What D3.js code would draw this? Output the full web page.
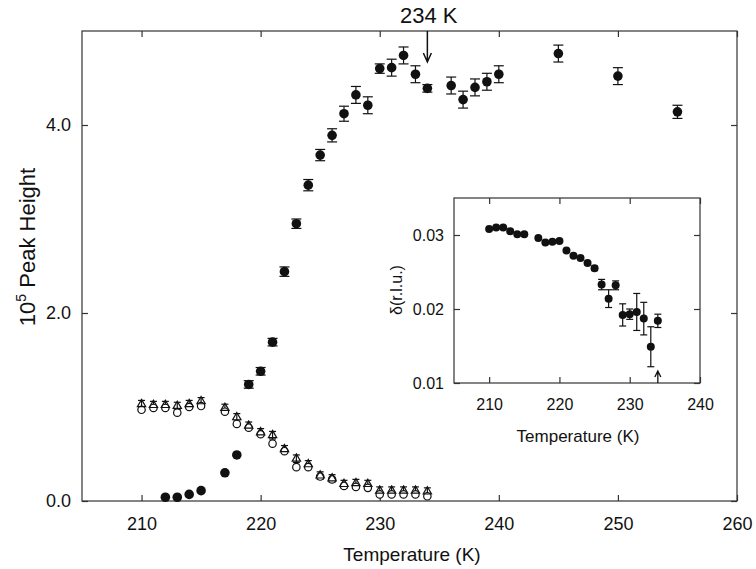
<!DOCTYPE html>
<html>
<head>
<meta charset="utf-8">
<script src="https://cdn.jsdelivr.net/npm/d3@7"></script>
<style>
  body { margin: 0; background: #fff; }
  svg { font-family: "Liberation Sans", Arial, sans-serif; }
  .frame { fill: none; stroke: #333; stroke-width: 1.2; }
  .tick line { stroke: #333; stroke-width: 1.2; }
</style>
</head>
<body>
<div id="chart"></div>
<script>
// main panel: filled circles (peak height with error bars)
const tFilled = [212, 213, 214, 215, 217, 218, 219, 220, 221, 222, 223, 224, 225, 226, 227,
                 228, 229, 230, 231, 232, 233, 234, 236, 237, 238, 239, 240, 245, 250, 255];
const hFilled = [0.04, 0.04, 0.07, 0.11, 0.30, 0.49, 1.24, 1.38, 1.69, 2.44, 2.95, 3.36, 3.68, 3.89, 4.12,
                 4.32, 4.21, 4.60, 4.61, 4.74, 4.54, 4.39, 4.42, 4.27, 4.40, 4.46, 4.54, 4.76, 4.52, 4.14];
const eFilled = [0, 0, 0, 0, 0, 0, 0.04, 0.04, 0.04, 0.05, 0.05, 0.06, 0.06, 0.07, 0.08,
                 0.09, 0.09, 0.05, 0.09, 0.09, 0.09, 0.04, 0.09, 0.09, 0.09, 0.09, 0.09, 0.09, 0.09, 0.07];

// main panel: open circles and open triangles
const tOpen = [210, 211, 212, 213, 214, 215, 217, 218, 219, 220, 221, 222,
               223, 224, 225, 226, 227, 228, 229, 230, 231, 232, 233, 234];
const hCircle = [0.97, 0.99, 0.99, 0.94, 1.00, 1.01, 0.95, 0.82, 0.78, 0.71, 0.61, 0.53,
                 0.36, 0.36, 0.26, 0.23, 0.16, 0.15, 0.14, 0.07, 0.07, 0.07, 0.07, 0.05];
const hTriangle = [1.03, 1.02, 1.02, 1.01, 1.03, 1.06, 0.99, 0.89, 0.80, 0.73, 0.70, 0.55,
                   0.45, 0.39, 0.27, 0.24, 0.18, 0.19, 0.18, 0.11, 0.11, 0.11, 0.11, 0.10];
const eTriangle = 0.04;

// inset: delta vs temperature
const tInset = [210, 211, 212, 213, 214, 215, 217, 218, 219, 220, 221, 222,
                223, 224, 225, 226, 227, 228, 229, 230, 231, 232, 233, 234];
const dInset = [0.0308, 0.0310, 0.0310, 0.0305, 0.0301, 0.0301, 0.0296, 0.0290, 0.0291, 0.0292, 0.0279, 0.0272,
                0.0269, 0.0262, 0.0255, 0.0233, 0.0214, 0.0232, 0.0192, 0.0193, 0.0196, 0.0187, 0.0149, 0.0184];
const eInset = [0, 0, 0, 0, 0, 0, 0, 0, 0, 0, 0, 0,
                0, 0.0002, 0.0003, 0.0007, 0.0012, 0.0006, 0.0015, 0.0007, 0.0025, 0.0022, 0.0027, 0.0009];

const xTicks = [210, 220, 230, 240, 250, 260];
const yTicks = [0, 2, 4];
const xTicksInset = [210, 220, 230, 240];
const yTicksInset = [0.01, 0.02, 0.03];
const transitionT = 234;

const width = 756;
const height = 569;

const svg = d3.select("#chart")
    .append("svg")
    .attr("width", width)
    .attr("height", height);

// ---- main panel ----
const xScale = d3.scaleLinear().domain([205, 260]).range([82, 737]);
const yScale = d3.scaleLinear().domain([0, 5]).range([501, 31]);

// axes with inward ticks on all four sides, plus a frame
function drawAxes(g, x, y, xt, yt, fmt, fontSize, padX, padY) {
    const [x0, x1] = x.range();
    const [y0, y1] = y.range();

    g.append("g")
        .attr("transform", `translate(0,${y0})`)
        .call(d3.axisBottom(x).tickValues(xt).tickSize(-6).tickPadding(padX).tickFormat(d3.format("d")))
        .call(a => a.select(".domain").remove());
    g.append("g")
        .attr("transform", `translate(0,${y1})`)
        .call(d3.axisTop(x).tickValues(xt).tickSize(-6).tickFormat(""))
        .call(a => a.select(".domain").remove());
    g.append("g")
        .attr("transform", `translate(${x0},0)`)
        .call(d3.axisLeft(y).tickValues(yt).tickSize(-6).tickPadding(padY).tickFormat(fmt))
        .call(a => a.select(".domain").remove());
    g.append("g")
        .attr("transform", `translate(${x1},0)`)
        .call(d3.axisRight(y).tickValues(yt).tickSize(-6).tickFormat(""))
        .call(a => a.select(".domain").remove());

    g.selectAll(".tick text")
        .attr("fill", "#111")
        .style("font-size", fontSize + "px")
        .style("font-family", "'Liberation Sans', Arial, sans-serif");

    g.append("rect")
        .attr("class", "frame")
        .attr("x", x0)
        .attr("y", y1)
        .attr("width", x1 - x0)
        .attr("height", y0 - y1);
}

function errorBars(g, data, x, y, cap) {
    const bars = g.append("g").attr("stroke", "#111").attr("stroke-width", 1.2);
    data.filter(d => d.e > 0).forEach(d => {
        const cx = x(d.t);
        const yHi = y(d.v + d.e);
        const yLo = y(d.v - d.e);
        bars.append("line").attr("x1", cx).attr("x2", cx).attr("y1", yHi).attr("y2", yLo);
        bars.append("line").attr("x1", cx - cap).attr("x2", cx + cap).attr("y1", yHi).attr("y2", yHi);
        bars.append("line").attr("x1", cx - cap).attr("x2", cx + cap).attr("y1", yLo).attr("y2", yLo);
    });
}

const main = svg.append("g");
drawAxes(main, xScale, yScale, xTicks, yTicks, d3.format(".1f"), 18, 16, 11);

const filled = tFilled.map((t, i) => ({ t: t, v: hFilled[i], e: eFilled[i] }));
const circles = tOpen.map((t, i) => ({ t: t, v: hCircle[i] }));
const triangles = tOpen.map((t, i) => ({ t: t, v: hTriangle[i], e: eTriangle }));

errorBars(main, triangles, xScale, yScale, 3.5);
errorBars(main, filled, xScale, yScale, 5);

main.append("g")
    .selectAll("circle")
    .data(circles)
    .join("circle")
    .attr("cx", d => xScale(d.t))
    .attr("cy", d => yScale(d.v))
    .attr("r", 3.7)
    .attr("fill", "#fff")
    .attr("stroke", "#111")
    .attr("stroke-width", 1.2);

main.append("g")
    .selectAll("path")
    .data(triangles)
    .join("path")
    .attr("transform", d => `translate(${xScale(d.t)},${yScale(d.v)})`)
    .attr("d", d3.symbol(d3.symbolTriangle, 30))
    .attr("fill", "none")
    .attr("stroke", "#111")
    .attr("stroke-width", 1.2);

main.append("g")
    .selectAll("circle")
    .data(filled)
    .join("circle")
    .attr("cx", d => xScale(d.t))
    .attr("cy", d => yScale(d.v))
    .attr("r", 4.8)
    .attr("fill", "#111");

// axis titles
main.append("text")
    .attr("x", 412)
    .attr("y", 561)
    .attr("text-anchor", "middle")
    .style("font-size", "19px")
    .attr("fill", "#111")
    .text("Temperature (K)");

const yLabel = main.append("text")
    .attr("transform", "translate(35,247) rotate(-90)")
    .attr("text-anchor", "middle")
    .style("font-size", "22px")
    .attr("fill", "#111");
yLabel.append("tspan").text("10");
yLabel.append("tspan").attr("dy", -9).style("font-size", "14px").text("5");
yLabel.append("tspan").attr("dy", 9).text(" Peak Height");

// transition marker
const tx = xScale(transitionT);
main.append("text")
    .attr("x", 400)
    .attr("y", 23)
    .style("font-size", "22px")
    .attr("fill", "#111")
    .text("234 K");
main.append("path")
    .attr("d", `M${tx},${yScale.range()[1]} V62 M${tx - 4},53 L${tx},62 L${tx + 4},53`)
    .attr("fill", "none")
    .attr("stroke", "#111")
    .attr("stroke-width", 1.5);

// ---- inset ----
const xInset = d3.scaleLinear().domain([205, 240]).range([454, 700]);
const yInset = d3.scaleLinear().domain([0.01, 0.035]).range([383, 198]);

const inset = svg.append("g");
inset.append("rect")
    .attr("x", 454).attr("y", 198)
    .attr("width", 246).attr("height", 185)
    .attr("fill", "#fff");
drawAxes(inset, xInset, yInset, xTicksInset, yTicksInset, d3.format(".2f"), 16, 16, 10);

const insetData = tInset.map((t, i) => ({ t: t, v: dInset[i], e: eInset[i] }));
errorBars(inset, insetData, xInset, yInset, 3.5);

inset.append("g")
    .selectAll("circle")
    .data(insetData)
    .join("circle")
    .attr("cx", d => xInset(d.t))
    .attr("cy", d => yInset(d.v))
    .attr("r", 4)
    .attr("fill", "#111");

const ix = xInset(transitionT);
inset.append("path")
    .attr("d", `M${ix},383 V371 M${ix - 3},377 L${ix},371 L${ix + 3},377`)
    .attr("fill", "none")
    .attr("stroke", "#111")
    .attr("stroke-width", 1.3);

inset.append("text")
    .attr("x", 578)
    .attr("y", 442)
    .attr("text-anchor", "middle")
    .style("font-size", "17px")
    .attr("fill", "#111")
    .text("Temperature (K)");

inset.append("text")
    .attr("transform", "translate(402,290) rotate(-90)")
    .attr("text-anchor", "middle")
    .style("font-size", "16px")
    .attr("fill", "#111")
    .text("δ(r.l.u.)");
</script>
</body>
</html>
